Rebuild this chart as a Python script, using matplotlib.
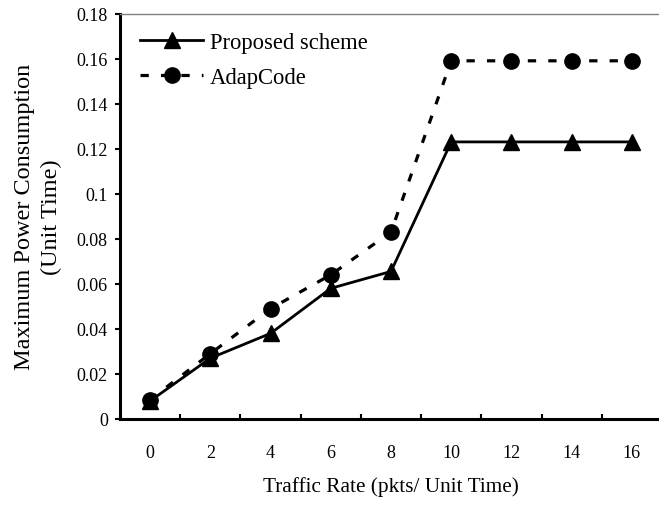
import matplotlib
matplotlib.use("Agg")
import matplotlib.pyplot as plt
from matplotlib.ticker import FixedLocator

categories = ['0', '2', '4', '6', '8', '10', '12', '14', '16']
proposed = [0.008, 0.027, 0.038, 0.058, 0.0655, 0.123, 0.123, 0.123, 0.123]
adapcode = [0.0086, 0.029, 0.049, 0.064, 0.083, 0.159, 0.159, 0.159, 0.159]
ytick_vals = [0, 0.02, 0.04, 0.06, 0.08, 0.1, 0.12, 0.14, 0.16, 0.18]
ytick_labels = ['0', '0.02', '0.04', '0.06', '0.08', '0.1', '0.12', '0.14', '0.16', '0.18']

plt.rcParams['font.family'] = ['Liberation Serif', 'DejaVu Serif']

W, H = 659, 506
fig = plt.figure(figsize=(W / 100, H / 100), dpi=100)
ax = fig.add_axes([120 / W, 1 - 420 / H, 542 / W, (420 - 14.5) / H])

x = list(range(len(categories)))
ax.plot(x, proposed, color='black', lw=2.0, marker='^', ms=11,
        label='Proposed scheme', clip_on=False, zorder=3)
ax.plot(x, adapcode, color='black', lw=2.3, linestyle=(0, (2.6, 3.8)),
        marker='o', ms=11, label='AdapCode', clip_on=False, zorder=4)

ax.set_xlim(-0.5, len(categories) - 0.5)
ax.set_ylim(0, 0.18)

ax.set_xticks(x)
ax.set_xticklabels(categories, fontsize=13)
ax.xaxis.set_minor_locator(FixedLocator([i + 0.5 for i in range(len(categories))]))
ax.tick_params(axis='x', which='major', length=0, pad=18)
ax.tick_params(axis='x', which='minor', direction='in', length=3.5, width=1.5)

ax.set_yticks(ytick_vals)
ax.set_yticklabels(ytick_labels, fontsize=13)
ax.tick_params(axis='y', which='major', direction='out', length=3.8, width=1.5, pad=5)

for s in ['left', 'bottom']:
    ax.spines[s].set_linewidth(2.2)
    ax.spines[s].set_color('black')
ax.spines['top'].set_linewidth(1.0)
ax.spines['top'].set_color('#808080')
ax.spines['right'].set_visible(False)

ax.set_xlabel('Traffic Rate (pkts/ Unit Time)', fontsize=15.3, labelpad=11)
ax.set_ylabel('Maximum Power Consumption\n(Unit Time)', fontsize=17.5, labelpad=10,
              linespacing=1.4)

leg = ax.legend(loc='upper left', bbox_to_anchor=(140 / W, 1 - 33 / H),
                bbox_transform=fig.transFigure, frameon=False, fontsize=16.3,
                handlelength=2.8, handletextpad=0.3, labelspacing=0.62,
                borderpad=0, borderaxespad=0)

fig.savefig('out.png', dpi=100)
